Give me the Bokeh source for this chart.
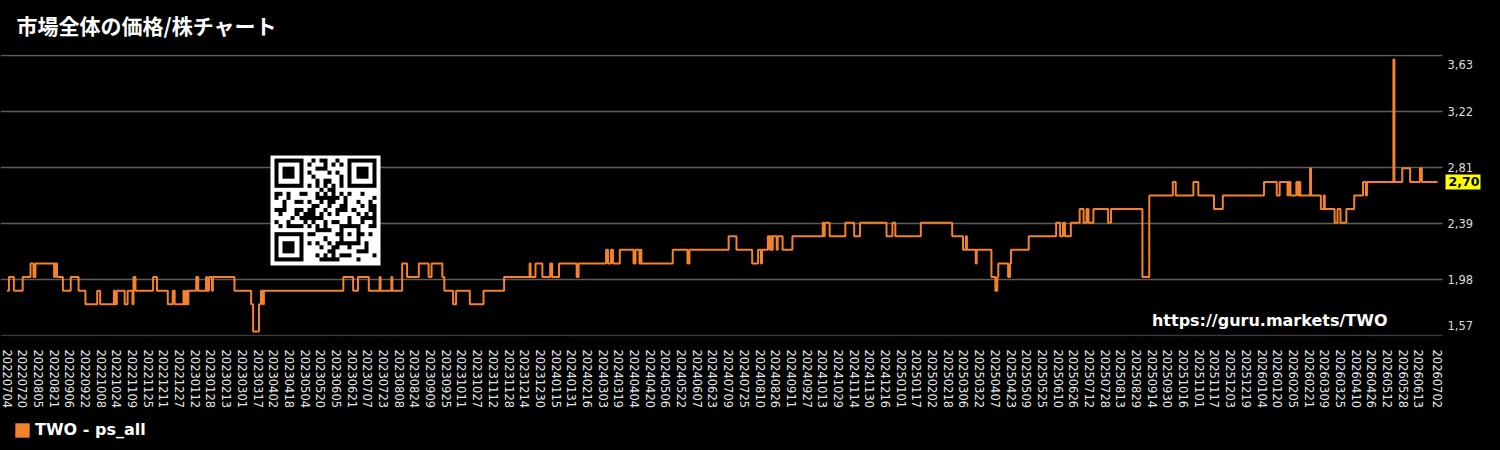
import numpy as np
import pandas as pd
from bokeh.plotting import figure
from bokeh.layouts import column
from bokeh.models import (FixedTicker, CustomJSTickFormatter, Label, Legend,
                          LegendItem, Range1d, ColumnDataSource)
from bokeh.embed import file_html
from bokeh.resources import INLINE

# ---------------- data ----------------
title_text = "市場全体の価格/株チャート"
url_text = "https://guru.markets/TWO"
series_name = "TWO - ps_all"
start_date = "20220704"

x_tick_labels = [
    "20220704", "20220720", "20220805", "20220821", "20220906", "20220922", "20221008", "20221024",
    "20221109", "20221125", "20221211", "20221227", "20230112", "20230128", "20230213", "20230301",
    "20230317", "20230402", "20230418", "20230504", "20230520", "20230605", "20230621", "20230707",
    "20230723", "20230808", "20230824", "20230909", "20230925", "20231011", "20231027", "20231112",
    "20231128", "20231214", "20231230", "20240115", "20240131", "20240216", "20240303", "20240319",
    "20240404", "20240420", "20240506", "20240522", "20240607", "20240623", "20240709", "20240725",
    "20240810", "20240826", "20240911", "20240927", "20241013", "20241029", "20241114", "20241130",
    "20241216", "20250101", "20250117", "20250202", "20250218", "20250306", "20250322", "20250407",
    "20250423", "20250509", "20250525", "20250610", "20250626", "20250712", "20250728", "20250813",
    "20250829", "20250914", "20250930", "20251016", "20251101", "20251117", "20251203", "20251219",
    "20260104", "20260120", "20260205", "20260221", "20260309", "20260325", "20260410", "20260426",
    "20260512", "20260528", "20260613", "20260702",
]

# days since start_date at which the value changes, and the value from that day on
change_day = [
    0, 2, 7, 16, 24, 27, 29, 48, 49, 51, 57, 65, 73, 80, 92, 95, 109, 110, 112, 120,
    123, 128, 129, 131, 149, 153, 164, 169, 171, 180, 181, 183, 184, 185, 193, 195, 203, 204, 206, 209,
    210, 232, 249, 251, 257, 259, 261, 262, 343, 353, 358, 369, 380, 381, 392, 393, 403, 408, 420, 430,
    433, 444, 446, 455, 458, 472, 486, 507, 533, 534, 539, 546, 554, 556, 563, 581, 583, 611, 613, 616,
    618, 625, 639, 641, 645, 646, 647, 679, 694, 696, 736, 744, 760, 766, 769, 770, 776, 778, 779, 780,
    781, 785, 786, 791, 801, 832, 833, 834, 839, 855, 864, 870, 897, 903, 906, 932, 964, 975, 978, 979,
    988, 989, 1004, 1008, 1010, 1011, 1021, 1023, 1024, 1042, 1070, 1074, 1077, 1079, 1085, 1094, 1098, 1101, 1103, 1108,
    1123, 1126, 1158, 1165, 1189, 1192, 1210, 1215, 1231, 1240, 1282, 1295, 1298, 1306, 1307, 1309, 1315, 1317, 1318, 1319,
    1329, 1330, 1340, 1343, 1344, 1354, 1357, 1360, 1366, 1374, 1383, 1386, 1387, 1414, 1415, 1423, 1431, 1441, 1443, 1459,
]
price = [
    1.9, 2.0, 1.9, 2.0, 2.1, 2.0, 2.1, 2.0, 2.1, 2.0, 1.9, 2.0, 1.9, 1.8, 1.9, 1.8, 1.9, 1.8, 1.9, 1.8,
    1.9, 1.8, 2.0, 1.9, 2.0, 1.9, 1.8, 1.9, 1.8, 1.9, 1.8, 1.9, 1.8, 1.9, 2.0, 1.9, 2.0, 1.9, 2.0, 1.9,
    2.0, 1.9, 1.8, 1.6, 1.8, 1.9, 1.8, 1.9, 2.0, 1.9, 2.0, 1.9, 2.0, 1.9, 2.0, 1.9, 2.1, 2.0, 2.1, 2.0,
    2.1, 2.0, 1.9, 1.8, 1.9, 1.8, 1.9, 2.0, 2.1, 2.0, 2.1, 2.0, 2.1, 2.0, 2.1, 2.0, 2.1, 2.2, 2.1, 2.2,
    2.1, 2.2, 2.1, 2.2, 2.1, 2.2, 2.1, 2.2, 2.1, 2.2, 2.3, 2.2, 2.1, 2.2, 2.1, 2.2, 2.3, 2.2, 2.3, 2.2,
    2.3, 2.2, 2.3, 2.2, 2.3, 2.4, 2.3, 2.4, 2.3, 2.4, 2.3, 2.4, 2.3, 2.4, 2.3, 2.4, 2.3, 2.2, 2.3, 2.2,
    2.1, 2.2, 2.0, 1.9, 2.0, 2.1, 2.0, 2.1, 2.2, 2.3, 2.4, 2.3, 2.4, 2.3, 2.4, 2.5, 2.4, 2.5, 2.4, 2.5,
    2.4, 2.5, 2.0, 2.6, 2.7, 2.6, 2.7, 2.6, 2.5, 2.6, 2.7, 2.6, 2.7, 2.6, 2.7, 2.6, 2.7, 2.6, 2.7, 2.6,
    2.8, 2.6, 2.5, 2.6, 2.5, 2.4, 2.5, 2.4, 2.5, 2.6, 2.7, 2.6, 2.7, 3.6, 2.7, 2.8, 2.7, 2.8, 2.7, 2.7,
]
last_value_label = "2,70"

y_ticks = [1.57, 1.982, 2.394, 2.806, 3.218, 3.63]
y_tick_labels = ["1,57", "1,98", "2,39", "2,81", "3,22", "3,63"]

# ---------------- styling ----------------
ORANGE = "#f4812c"
BG = "#000000"

t0 = pd.Timestamp(start_date)
x_tick_pos = [(pd.Timestamp(s) - t0).days for s in x_tick_labels]

PX_PER_DAY = 0.9805
X0_PX = 6.5
def day_at_px(px):
    return (px - X0_PX) / PX_PER_DAY
grid_end_day = day_at_px(1442)


def strip(height):
    f = figure(width=1500, height=height, output_backend="svg", toolbar_location=None,
               x_axis_location=None, y_axis_location=None,
               x_range=Range1d(0, 1500), y_range=Range1d(0, height),
               min_border_left=0, min_border_right=0, min_border_top=0, min_border_bottom=0)
    f.background_fill_color = BG
    f.border_fill_color = BG
    f.outline_line_color = None
    f.xgrid.grid_line_color = None
    f.ygrid.grid_line_color = None
    return f


# ---------------- title strip ----------------
t = strip(40)
t.add_layout(Label(x=16, y=16, x_units="screen", y_units="screen", text=title_text,
                   text_font="Noto Sans CJK JP", text_font_style="bold", text_font_size="21px",
                   text_color="white", text_baseline="middle", text_align="left"))

# ---------------- main chart ----------------
p = figure(width=1500, height=375, output_backend="svg", toolbar_location=None,
           y_axis_location="right",
           x_range=Range1d(day_at_px(0), day_at_px(1480)),
           y_range=Range1d(1.5626, 3.6374),
           min_border_left=0, min_border_right=20, min_border_top=14, min_border_bottom=79)
p.background_fill_color = BG
p.border_fill_color = BG
p.outline_line_color = None

# horizontal rules at the tick values (end at the price-label column)
p.xgrid.grid_line_color = None
p.ygrid.grid_line_color = None
n_rules = len(y_ticks)
p.segment(x0=[day_at_px(0)] * n_rules, x1=[grid_end_day] * n_rules, y0=y_ticks, y1=y_ticks,
          line_color=["#3a3a3a"] + ["#5c5c5c"] * (n_rules - 1), line_width=1.5)

# x axis
xa = p.xaxis[0]
xa.ticker = FixedTicker(ticks=x_tick_pos)
xa.formatter = CustomJSTickFormatter(args=dict(labels=x_tick_labels), code="return labels[index];")
xa.major_label_orientation = "vertical"
xa.major_label_text_color = "#e6e6e6"
xa.major_label_text_font = "DejaVu Sans"
xa.major_label_text_font_size = "11.5px"
xa.major_tick_out = 0
xa.major_tick_in = 0
xa.major_label_standoff = 13
xa.major_tick_line_color = None
xa.minor_tick_line_color = None
xa.axis_line_color = None

# y axis (labels sit left of the frame's right edge; end labels nudged inward)
ya = p.yaxis[0]
y_label_pos = [y_ticks[0] + 0.074] + y_ticks[1:-1] + [y_ticks[-1] - 0.066]
ya.ticker = FixedTicker(ticks=y_label_pos)
ya.formatter = CustomJSTickFormatter(args=dict(labels=y_tick_labels), code="return labels[index];")
ya.major_label_text_color = "#dddddd"
ya.major_label_text_font = "DejaVu Sans"
ya.major_label_text_font_size = "11.5px"
ya.major_tick_out = 0
ya.major_tick_in = 0
ya.major_label_standoff = -33
ya.major_tick_line_color = None
ya.minor_tick_line_color = None
ya.axis_line_color = None

# QR-like watermark block (decoration)
n = 25
m = np.zeros((n, n), dtype=bool)
res = np.zeros((n, n), dtype=bool)
def finder(r, c):
    m[r:r + 7, c:c + 7] = True
    m[r + 1:r + 6, c + 1:c + 6] = False
    m[r + 2:r + 5, c + 2:c + 5] = True
    res[max(r - 1, 0):r + 8, max(c - 1, 0):c + 8] = True
finder(0, 0); finder(0, n - 7); finder(n - 7, 0)
m[16:21, 16:21] = True; m[17:20, 17:20] = False; m[18, 18] = True; res[16:21, 16:21] = True
idx = np.arange(n)
m[6, 8:n - 8] = (idx[8:n - 8] % 2 == 0); res[6, :] = True
m[8:n - 8, 6] = (idx[8:n - 8] % 2 == 0); res[:, 6] = True
for i in range(n):
    for j in range(n):
        if not res[i, j]:
            m[i, j] = ((i * 7 + j * 13 + (i * j) % 5) % 3) == 0 or ((i + 2 * j) % 7 == 1)
N = n + 2
qr = np.ones((N, N), dtype=bool)
qr[1:-1, 1:-1] = ~m
img = np.empty((N, N), dtype=np.uint32)
view = img.view(dtype=np.uint8).reshape((N, N, 4))
val = np.where(qr[::-1], 255, 0).astype(np.uint8)
view[:, :, 0] = val; view[:, :, 1] = val; view[:, :, 2] = val; view[:, :, 3] = 255
p.image_rgba(image=[img], x=day_at_px(270), y=2.085, dw=day_at_px(380) - day_at_px(270), dh=0.809)

# series
src = ColumnDataSource(dict(day=change_day, price=price))
p.step(x="day", y="price", source=src, mode="after", line_color=ORANGE, line_width=2)

# url watermark
p.add_layout(Label(x=1387, y=16, x_units="screen", y_units="screen", text=url_text,
                   text_font="DejaVu Sans", text_font_style="bold", text_font_size="16px",
                   text_color="white", text_baseline="middle", text_align="right"))
# last value marker
p.add_layout(Label(x=1445, y=price[-1], x_units="screen", y_units="data", text=last_value_label,
                   text_font="DejaVu Sans", text_font_style="bold", text_font_size="12.5px",
                   text_color="black", text_baseline="middle", text_align="left",
                   background_fill_color="#ffff00", padding=3))

# ---------------- legend strip ----------------
q = strip(35)
# swatch proxy kept outside the visible range: only its legend glyph shows
sq = q.quad(left=[-20], right=[-10], top=[-10], bottom=[-20], fill_color=ORANGE, line_color=None)
legend = Legend(items=[LegendItem(label=series_name, renderers=[sq])], location=(13, 11),
                orientation="horizontal", padding=0, margin=0, spacing=0,
                glyph_width=18, glyph_height=18, label_height=18, label_standoff=4,
                label_text_font="DejaVu Sans", label_text_font_style="bold",
                label_text_font_size="16px", label_text_color="white",
                background_fill_alpha=0, border_line_alpha=0)
q.add_layout(legend)

page = column(t, p, q, spacing=0)
page.styles = {"background-color": BG}
open("out.html", "w").write(file_html(page, INLINE))
